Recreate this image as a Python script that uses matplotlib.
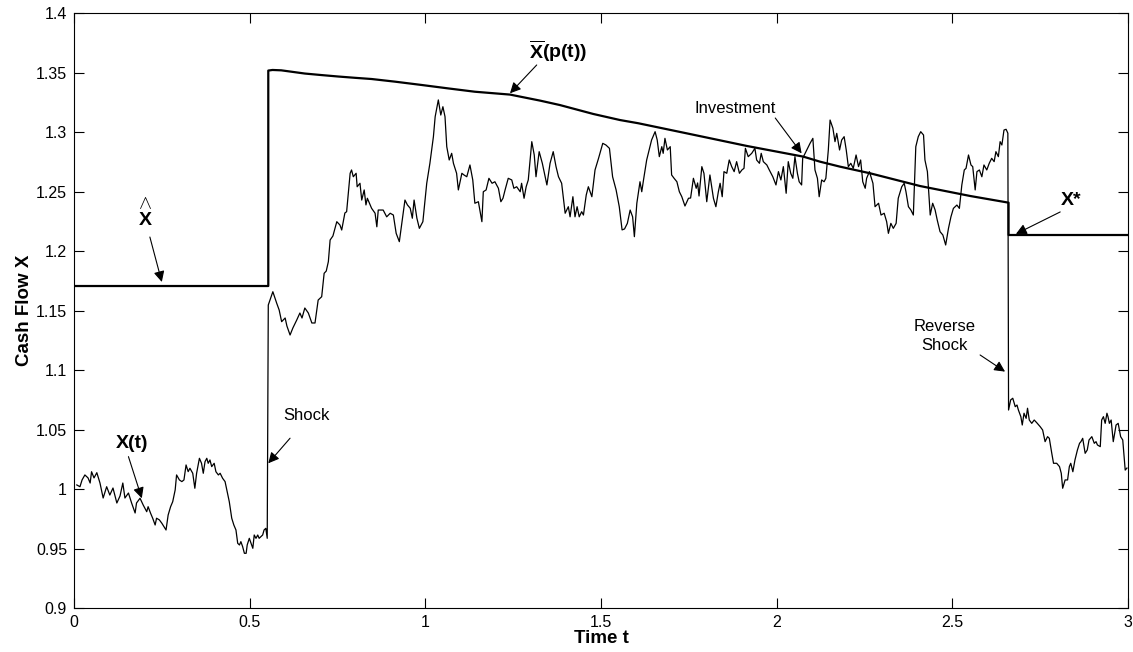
import numpy as np
import matplotlib
matplotlib.use('Agg')
import matplotlib.pyplot as plt
from matplotlib.ticker import FormatStrFormatter

plt.rcParams['font.family'] = ['Liberation Sans', 'DejaVu Sans']
plt.rcParams['mathtext.fontset'] = 'custom'
plt.rcParams['mathtext.rm'] = 'Liberation Sans'
plt.rcParams['mathtext.bf'] = 'Liberation Sans:bold'

# cash flow path X(t)
t_path = [0.008, 0.017, 0.023, 0.031, 0.040, 0.046, 0.050, 0.057, 0.065, 0.074,
          0.083, 0.093, 0.102, 0.111, 0.122, 0.131, 0.139, 0.145, 0.155, 0.164,
          0.174, 0.178, 0.188, 0.197, 0.207, 0.211, 0.218, 0.224, 0.231, 0.235,
          0.243, 0.250, 0.256, 0.262, 0.268, 0.275, 0.281, 0.288, 0.292, 0.300,
          0.307, 0.313, 0.319, 0.325, 0.330, 0.338, 0.344, 0.349, 0.357, 0.363,
          0.368, 0.373, 0.378, 0.382, 0.387, 0.392, 0.399, 0.404, 0.411, 0.416,
          0.423, 0.430, 0.436, 0.442, 0.449, 0.455, 0.461, 0.466, 0.471, 0.475,
          0.480, 0.485, 0.490, 0.493, 0.499, 0.504, 0.509, 0.513, 0.518, 0.523,
          0.527, 0.532, 0.537, 0.541, 0.546, 0.550,
          # shock
          0.553, 0.566, 0.577, 0.584, 0.591, 0.601, 0.606, 0.615, 0.623, 0.634,
          0.643, 0.649, 0.657, 0.667, 0.677, 0.686, 0.695, 0.705, 0.712, 0.718,
          0.724, 0.729, 0.737, 0.743, 0.748, 0.757, 0.762, 0.771, 0.776, 0.786,
          0.790, 0.795, 0.803, 0.806, 0.814, 0.819, 0.826, 0.831, 0.835, 0.847,
          0.857, 0.862, 0.866, 0.880, 0.890, 0.900, 0.909, 0.917, 0.926, 0.933,
          0.942, 0.949, 0.957, 0.963, 0.968, 0.976, 0.983, 0.993, 1.004, 1.013,
          1.023, 1.028, 1.037, 1.044, 1.050, 1.056, 1.061, 1.068, 1.075, 1.080,
          1.089, 1.094, 1.104, 1.110, 1.118, 1.127, 1.135, 1.141, 1.151, 1.161,
          1.165, 1.173, 1.181, 1.190, 1.198, 1.208, 1.215, 1.221, 1.227, 1.236,
          1.246, 1.252, 1.260, 1.270, 1.274, 1.281, 1.287, 1.293, 1.303, 1.310,
          1.315, 1.324, 1.333, 1.346, 1.355, 1.364, 1.372, 1.379, 1.388, 1.398,
          1.407, 1.412, 1.420, 1.426, 1.432, 1.438, 1.445, 1.450, 1.458, 1.464,
          1.474, 1.483, 1.493, 1.505, 1.514, 1.524, 1.533, 1.543, 1.552, 1.560,
          1.567, 1.575, 1.583, 1.590, 1.595, 1.602, 1.611, 1.616, 1.621, 1.630,
          1.637, 1.644, 1.654, 1.660, 1.666, 1.673, 1.677, 1.682, 1.689, 1.697,
          1.701, 1.708, 1.716, 1.723, 1.730, 1.739, 1.749, 1.755, 1.763, 1.771,
          1.775, 1.779, 1.787, 1.793, 1.801, 1.810, 1.820, 1.827, 1.834, 1.839,
          1.845, 1.850, 1.858, 1.865, 1.872, 1.879, 1.886, 1.894, 1.901, 1.907,
          1.911, 1.919, 1.929, 1.938, 1.943, 1.951, 1.956, 1.962, 1.972, 1.979,
          1.989, 1.998, 2.005, 2.012, 2.019, 2.027, 2.033, 2.040, 2.046, 2.052,
          2.059, 2.064, 2.071, 2.074, 2.081, 2.088, 2.095, 2.103, 2.109, 2.116,
          2.121, 2.128, 2.135, 2.140, 2.147, 2.152, 2.160, 2.166, 2.171, 2.179,
          2.185, 2.192, 2.198, 2.204, 2.211, 2.218, 2.226, 2.233, 2.239, 2.245,
          2.252, 2.256, 2.264, 2.274, 2.280, 2.290, 2.297, 2.306, 2.313, 2.318,
          2.325, 2.332, 2.340, 2.346, 2.356, 2.363, 2.368, 2.375, 2.382, 2.389,
          2.396, 2.403, 2.410, 2.418, 2.422, 2.429, 2.437, 2.444, 2.451, 2.457,
          2.465, 2.473, 2.481, 2.489, 2.496, 2.503, 2.513, 2.520, 2.527, 2.534,
          2.539, 2.546, 2.553, 2.558, 2.565, 2.570, 2.577, 2.584, 2.590, 2.598,
          2.605, 2.612, 2.619, 2.624, 2.631, 2.636, 2.641, 2.647, 2.653, 2.658,
          # reverse shock
          2.660, 2.666, 2.672, 2.679, 2.684, 2.688, 2.695, 2.699, 2.704, 2.710,
          2.714, 2.719, 2.726, 2.733, 2.740, 2.750, 2.757, 2.764, 2.771, 2.776,
          2.783, 2.788, 2.797, 2.805, 2.810, 2.814, 2.821, 2.828, 2.833, 2.837,
          2.843, 2.849, 2.856, 2.862, 2.866, 2.871, 2.878, 2.884, 2.889, 2.897,
          2.904, 2.909, 2.913, 2.921, 2.925, 2.930, 2.935, 2.940, 2.943, 2.947,
          2.952, 2.958, 2.966, 2.972, 2.979, 2.985, 2.992, 2.997]
x_path = [1.0035, 1.002, 1.0077, 1.0119, 1.0094, 1.0051, 1.0146, 1.0094, 1.0138, 1.0051,
          0.9925, 1.002, 0.995, 1.0009, 0.9883, 0.9942, 1.0051, 0.9925, 0.9967, 0.9883,
          0.9799, 0.9883, 0.9923, 0.9866, 0.981, 0.9852, 0.9797, 0.9755, 0.9698, 0.9755,
          0.9741, 0.9713, 0.9684, 0.9656, 0.9782, 0.9852, 0.9894, 0.9993, 1.0119, 1.0077,
          1.0063, 1.0077, 1.0203, 1.0147, 1.0175, 1.0133, 1.0007, 1.0133, 1.0259, 1.0217,
          1.0133, 1.0231, 1.0259, 1.0217, 1.0245, 1.0189, 1.0217, 1.0146, 1.0119, 1.0133,
          1.0091, 1.0063, 0.9978, 0.9894, 0.9755, 0.9698, 0.9656, 0.9544, 0.953, 0.9558,
          0.9516, 0.946, 0.946, 0.953, 0.9586, 0.9544, 0.9502, 0.9614, 0.9586, 0.9614,
          0.9586, 0.96, 0.9614, 0.9656, 0.967, 0.9586,
          1.1548, 1.166, 1.1563, 1.1506, 1.1408, 1.1439, 1.1372, 1.1296, 1.1355, 1.1422,
          1.1481, 1.1439, 1.1523, 1.1481, 1.1397, 1.1397, 1.159, 1.1618, 1.1815, 1.1834,
          1.1913, 1.2095, 1.2129, 1.2193, 1.2249, 1.2221, 1.2179, 1.2322, 1.2333, 1.2656,
          1.2684, 1.2627, 1.2656, 1.2543, 1.2572, 1.2431, 1.2516, 1.239, 1.2446, 1.2362,
          1.232, 1.2206, 1.2347, 1.2347, 1.229, 1.232, 1.2305, 1.2151, 1.2081, 1.2235,
          1.2431, 1.239, 1.2362, 1.2278, 1.2431, 1.2278, 1.2193, 1.2249, 1.2572, 1.274,
          1.2964, 1.3132, 1.3273, 1.3146, 1.3216, 1.3132, 1.288, 1.2768, 1.2824, 1.274,
          1.2656, 1.2516, 1.2656, 1.2642, 1.2627, 1.2726, 1.26, 1.2404, 1.2417, 1.2249,
          1.2501, 1.2516, 1.2614, 1.2572, 1.2585, 1.253, 1.2417, 1.2446, 1.2516, 1.2614,
          1.26, 1.253, 1.2543, 1.2501, 1.2572, 1.2446, 1.2543, 1.26, 1.2922, 1.281,
          1.2627, 1.2838, 1.274, 1.2558, 1.274, 1.2838, 1.2712, 1.2627, 1.2572, 1.232,
          1.2375, 1.229, 1.2459, 1.229, 1.2375, 1.229, 1.2333, 1.2305, 1.2474, 1.2543,
          1.2459, 1.2684, 1.2782, 1.2908, 1.2894, 1.2866, 1.2627, 1.2516, 1.2375, 1.218,
          1.2188, 1.2235, 1.2347, 1.229, 1.2123, 1.2404, 1.2585, 1.2501, 1.26, 1.2768,
          1.2852, 1.2936, 1.3006, 1.2936, 1.2796, 1.288, 1.2824, 1.295, 1.2852, 1.288,
          1.2642, 1.2614, 1.2585, 1.2501, 1.2459, 1.2381, 1.2446, 1.2448, 1.2614, 1.253,
          1.2575, 1.2465, 1.2712, 1.2656, 1.2417, 1.2642, 1.2446, 1.2375, 1.2501, 1.2572,
          1.2459, 1.267, 1.2656, 1.2768, 1.2712, 1.267, 1.2754, 1.2656, 1.2684, 1.2698,
          1.2866, 1.2796, 1.2824, 1.2866, 1.2768, 1.274, 1.2824, 1.2754, 1.2726, 1.2684,
          1.2627, 1.2558, 1.267, 1.26, 1.2712, 1.2488, 1.2754, 1.2656, 1.2614, 1.2796,
          1.2656, 1.2585, 1.2558, 1.2782, 1.2824, 1.2866, 1.2908, 1.295, 1.2684, 1.2614,
          1.2459, 1.26, 1.2585, 1.2614, 1.2852, 1.3104, 1.3035, 1.2922, 1.2992, 1.2852,
          1.2936, 1.2964, 1.2852, 1.2712, 1.274, 1.2698, 1.281, 1.2712, 1.2768, 1.2585,
          1.253, 1.2614, 1.267, 1.2572, 1.2375, 1.2404, 1.2305, 1.232, 1.2249, 1.2151,
          1.2235, 1.2193, 1.2235, 1.2446, 1.2543, 1.2572, 1.2501, 1.2375, 1.2347, 1.2305,
          1.288, 1.2964, 1.3006, 1.2978, 1.2768, 1.267, 1.2305, 1.2404, 1.2347, 1.2263,
          1.2165, 1.2137, 1.2053, 1.2193, 1.229, 1.2361, 1.2389, 1.2361, 1.2558, 1.2684,
          1.2698, 1.281, 1.2726, 1.2712, 1.2516, 1.267, 1.2684, 1.2627, 1.2726, 1.2684,
          1.274, 1.2782, 1.2754, 1.2838, 1.2796, 1.2922, 1.2894, 1.302, 1.3026, 1.2993,
          1.0665, 1.075, 1.0764, 1.0693, 1.0707, 1.0665, 1.0609, 1.0539, 1.0638, 1.0595,
          1.068, 1.0581, 1.0553, 1.0581, 1.0559, 1.0525, 1.0497, 1.0399, 1.0441, 1.0427,
          1.0301, 1.0217, 1.0217, 1.0189, 1.0133, 1.0007, 1.0077, 1.0077, 1.0189, 1.0217,
          1.0146, 1.0245, 1.0329, 1.0385, 1.0399, 1.0427, 1.0301, 1.0329, 1.0413, 1.0441,
          1.0385, 1.0399, 1.0371, 1.0357, 1.0581, 1.0609, 1.0553, 1.0638, 1.0609, 1.0553,
          1.0581, 1.0399, 1.0539, 1.0553, 1.0441, 1.0413, 1.016, 1.0177]

# investment threshold
x_hat = 1.1708
x_star = 1.2137
t_shock = 0.553
t_reverse = 2.660
t_bar = [0.553, 0.565, 0.59, 0.657, 0.705, 0.752, 0.800, 0.847, 0.913, 0.989,
         1.065, 1.141, 1.241, 1.327, 1.383, 1.478, 1.554, 1.606, 1.744, 1.915,
         2.076, 2.123, 2.180, 2.266, 2.408, 2.551, 2.660]
x_bar = [1.352, 1.3525, 1.3522, 1.3495, 1.3482, 1.3470, 1.3459, 1.3449, 1.3427, 1.3399,
         1.337, 1.3342, 1.3318, 1.3267, 1.323, 1.3155, 1.3104, 1.3077, 1.2992, 1.2886,
         1.2796, 1.2754, 1.2712, 1.2656, 1.2549, 1.2465, 1.2409]

t_thr = np.concatenate([[0, t_shock], t_bar, [t_reverse, 3.0]])
x_thr = np.concatenate([[x_hat, x_hat], x_bar, [x_star, x_star]])

fig = plt.figure(figsize=(11.33, 6.52), dpi=100)
ax = fig.add_axes([0.0653, 0.0675, 0.9303, 0.9118])

ax.plot(t_thr, x_thr, 'k-', lw=1.6)
ax.plot(t_path, x_path, 'k-', lw=0.9)

ax.set_xlim(0, 3)
ax.set_ylim(0.9, 1.4)
ax.set_xticks(np.arange(0, 3.01, 0.5))
ax.set_yticks(np.arange(0.9, 1.401, 0.05))
ax.xaxis.set_major_formatter(FormatStrFormatter('%g'))
ax.yaxis.set_major_formatter(FormatStrFormatter('%g'))
ax.tick_params(direction='in', length=7.5, width=0.8, top=True, right=True, labelsize=11.5, pad=5)
for s in ax.spines.values():
    s.set_linewidth(0.8)

ax.set_xlabel('Time t', fontsize=13.5, fontweight='bold', labelpad=0)
ax.set_ylabel('Cash Flow X', fontsize=13.5, fontweight='bold', labelpad=2)

arr = dict(arrowstyle='-|>', color='k', lw=0.8, mutation_scale=16, shrinkA=0, shrinkB=0)

# X hat: thin wedge over a bold X, one text block
ax.text(0.202, 1.2325, '$\\wedge$\n$\\mathbf{X}$', fontsize=14, ha='center', va='center',
        linespacing=0.95)
ax.annotate('', xy=(0.250, 1.1742), xytext=(0.216, 1.212), arrowprops=arr)

ax.text(0.164, 1.0385, 'X(t)', fontsize=14, fontweight='bold', ha='center', va='center')
ax.annotate('', xy=(0.193, 0.9923), xytext=(0.155, 1.0273), arrowprops=arr)

ax.text(0.663, 1.0623, 'Shock', fontsize=12, ha='center', va='center')
ax.annotate('', xy=(0.553, 1.0217), xytext=(0.615, 1.0428), arrowprops=arr)

ax.text(1.379, 1.368, r'$\mathbf{\overline{X}(p(t))}$', fontsize=14, ha='center', va='center')
ax.annotate('', xy=(1.241, 1.3329), xytext=(1.317, 1.3567), arrowprops=arr)

ax.text(1.882, 1.3205, 'Investment', fontsize=12, ha='center', va='center')
ax.annotate('', xy=(2.071, 1.2824), xytext=(1.996, 1.3121), arrowprops=arr)

ax.text(2.838, 1.2431, 'X*', fontsize=14, fontweight='bold', ha='center', va='center')
ax.annotate('', xy=(2.681, 1.2146), xytext=(2.807, 1.2331), arrowprops=arr)

ax.text(2.479, 1.1288, 'Reverse\nShock', fontsize=12, ha='center', va='center', linespacing=1.3)
ax.annotate('', xy=(2.650, 1.0988), xytext=(2.579, 1.1128), arrowprops=arr)

fig.savefig('out.png', dpi=100)
